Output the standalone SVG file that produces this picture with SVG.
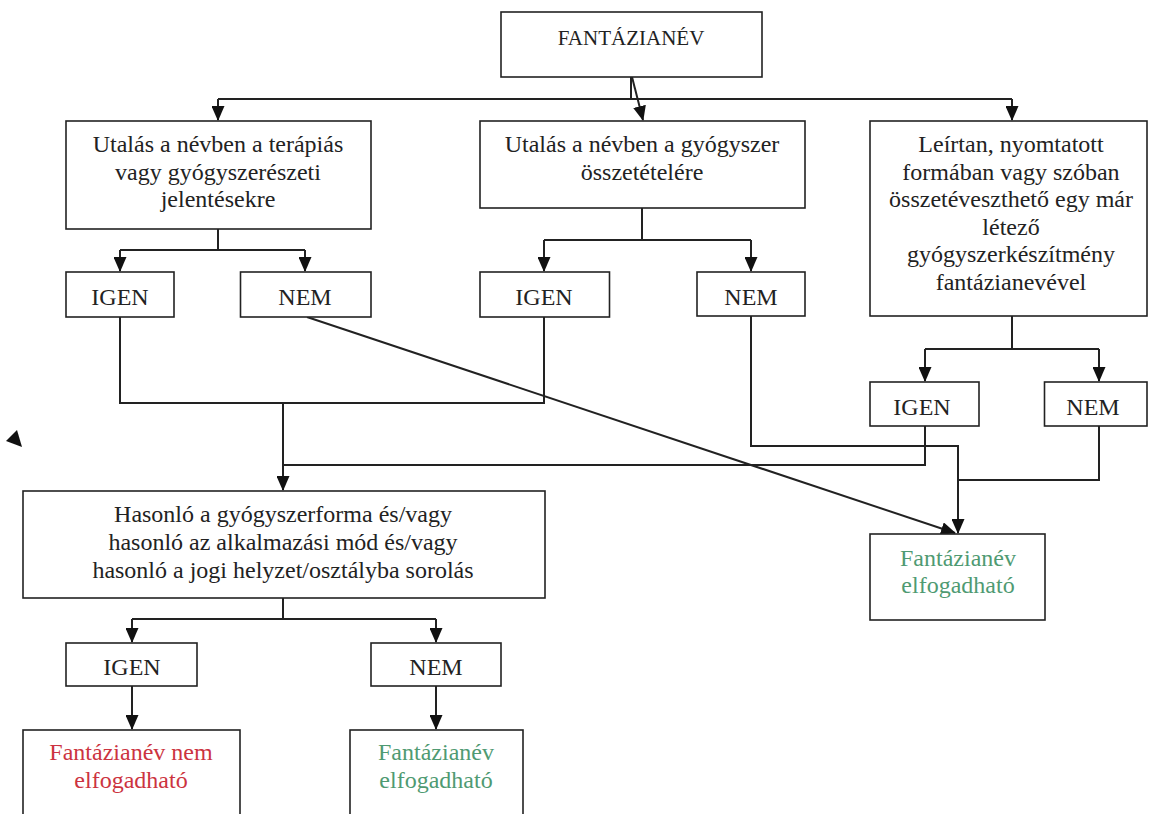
<svg xmlns="http://www.w3.org/2000/svg" width="1149" height="814" viewBox="0 0 1149 814">
<style>
.box{fill:#fff;stroke:#222;stroke-width:1.6}
.t{font-family:"Liberation Serif","Times New Roman",serif;font-size:24px;fill:#222;text-anchor:middle}
.red{fill:#cc3340}
.green{fill:#4f9a72}
.c{fill:none;stroke:#222;stroke-width:2}
</style>
<defs>
<marker id="ah" markerUnits="userSpaceOnUse" markerWidth="15" markerHeight="13" refX="14" refY="6.5" orient="auto">
<path d="M0,0 L15,6.5 L0,13 z" fill="#111"/>
</marker>
</defs>
<rect width="1149" height="814" fill="#fff"/>
<g id="connectors">
<path class="c" d="M631,77 V99"/>
<path class="c" d="M218,99 H1012"/>
<path class="c" d="M218,99 V120" marker-end="url(#ah)"/>
<path class="c" d="M1012,99 V120" marker-end="url(#ah)"/>
<path class="c" d="M632,77 L643,120" marker-end="url(#ah)"/>
<path class="c" d="M218,229 V250 M120,250 H305"/>
<path class="c" d="M120,250 V271" marker-end="url(#ah)"/>
<path class="c" d="M305,250 V271" marker-end="url(#ah)"/>
<path class="c" d="M642,208 V240 M544,240 H751"/>
<path class="c" d="M544,240 V271" marker-end="url(#ah)"/>
<path class="c" d="M751,240 V271" marker-end="url(#ah)"/>
<path class="c" d="M1012,316 V349 M925,349 H1099"/>
<path class="c" d="M925,349 V381" marker-end="url(#ah)"/>
<path class="c" d="M1099,349 V381" marker-end="url(#ah)"/>
<path class="c" d="M120,317 V403 H544 V317"/>
<path class="c" d="M283,403 V490" marker-end="url(#ah)"/>
<path class="c" d="M925,426 V465 H283"/>
<path class="c" d="M751,316 V446 H958 V533" marker-end="url(#ah)"/>
<path class="c" d="M1099,426 V480 H958"/>
<path class="c" d="M307,317 L955,533" marker-end="url(#ah)"/>
<path class="c" d="M283,598 V619 M132,619 H436"/>
<path class="c" d="M132,619 V642" marker-end="url(#ah)"/>
<path class="c" d="M436,619 V642" marker-end="url(#ah)"/>
<path class="c" d="M132,686 V729" marker-end="url(#ah)"/>
<path class="c" d="M436,686 V729" marker-end="url(#ah)"/>
<polygon points="6,441 17,430 22,447" fill="#111"/>
</g>
<g id="n-top"><rect class="box" x="501" y="12" width="261" height="65"/><text class="t" x="631" y="45" style="font-size:21px">FANTÁZIANÉV</text></g>
<g id="n-b1"><rect class="box" x="66" y="121" width="305" height="108"/>
<text class="t" x="218" y="152">Utalás a névben a terápiás</text>
<text class="t" x="218" y="179.5">vagy gyógyszerészeti</text>
<text class="t" x="218" y="207">jelentésekre</text></g>
<g id="n-b2"><rect class="box" x="480" y="121" width="325" height="87"/>
<text class="t" x="642" y="152">Utalás a névben a gyógyszer</text>
<text class="t" x="642" y="179.5">összetételére</text></g>
<g id="n-b3"><rect class="box" x="870" y="121" width="277" height="195"/>
<text class="t" x="1011" y="152">Leírtan, nyomtatott</text>
<text class="t" x="1011" y="179.5">formában vagy szóban</text>
<text class="t" x="1011" y="207">összetéveszthető egy már</text>
<text class="t" x="1011" y="234.5">létező</text>
<text class="t" x="1011" y="262">gyógyszerkészítmény</text>
<text class="t" x="1011" y="290">fantázianevével</text></g>
<g id="n-igen1"><rect class="box" x="66" y="272" width="108" height="45"/><text class="t" x="120" y="305">IGEN</text></g>
<g id="n-nem1"><rect class="box" x="240.5" y="272" width="130.5" height="45"/><text class="t" x="305" y="305">NEM</text></g>
<g id="n-igen2"><rect class="box" x="480" y="272" width="129.5" height="45"/><text class="t" x="544" y="305">IGEN</text></g>
<g id="n-nem2"><rect class="box" x="697" y="272" width="108" height="44"/><text class="t" x="751" y="305">NEM</text></g>
<g id="n-igen3"><rect class="box" x="870" y="382" width="109" height="44"/><text class="t" x="922" y="415">IGEN</text></g>
<g id="n-nem3"><rect class="box" x="1044.5" y="382" width="102.5" height="44"/><text class="t" x="1093" y="415">NEM</text></g>
<g id="n-ok1"><rect class="box" x="870" y="534" width="175" height="86"/>
<text class="t green" x="958" y="565.5">Fantázianév</text>
<text class="t green" x="958" y="593">elfogadható</text></g>
<g id="n-b4"><rect class="box" x="23" y="491" width="522" height="107"/>
<text class="t" x="283" y="522">Hasonló a gyógyszerforma és/vagy</text>
<text class="t" x="283" y="550">hasonló az alkalmazási mód és/vagy</text>
<text class="t" x="283" y="578">hasonló a jogi helyzet/osztályba sorolás</text></g>
<g id="n-igen4"><rect class="box" x="66" y="643" width="131" height="43"/><text class="t" x="132" y="675">IGEN</text></g>
<g id="n-nem4"><rect class="box" x="371" y="643" width="130" height="43"/><text class="t" x="436" y="675">NEM</text></g>
<g id="n-no"><rect class="box" x="23" y="730" width="217" height="110"/>
<text class="t red" x="131" y="760">Fantázianév nem</text>
<text class="t red" x="131" y="788">elfogadható</text></g>
<g id="n-ok2"><rect class="box" x="350" y="730" width="173" height="110"/>
<text class="t green" x="436" y="760">Fantázianév</text>
<text class="t green" x="436" y="788">elfogadható</text></g>
</svg>
